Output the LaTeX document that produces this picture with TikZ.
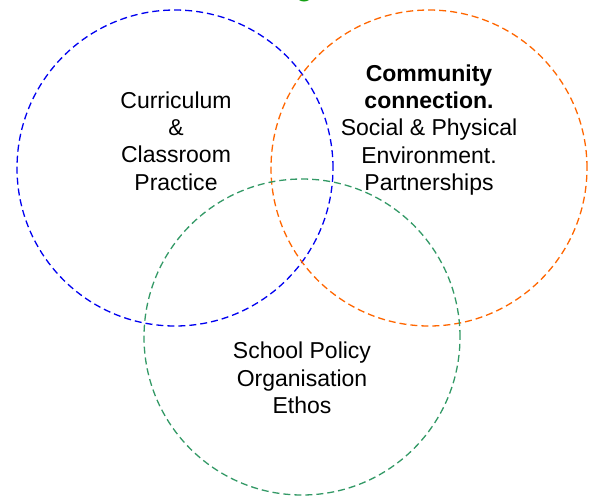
\documentclass[tikz,border=0pt]{standalone}
\usepackage{fontspec}
\setmainfont{Liberation Sans}
\usepackage{xcolor}
\definecolor{ringblue}{RGB}{0,0,240}
\definecolor{ringorange}{RGB}{255,102,0}
\definecolor{ringgreen}{RGB}{51,153,102}
\definecolor{topgreen}{RGB}{20,160,20}
\tikzset{
	ring/.style={dash pattern=on 7pt off 4pt, line width=1.3pt},
	label/.style={align=center, inner sep=0pt, font=\fontsize{23}{27.3}\selectfont}
}

\begin{document}
\begin{tikzpicture}[x=1pt, y=-1pt]
	\useasboundingbox (0,0) rectangle (593,498);
	\fill[topgreen] (304,-3.5) ellipse [x radius=7pt, y radius=5pt];

	\draw[ring, ringblue] (175,168) circle [radius=158pt];
	\draw[ring, ringorange] (429,168) circle [radius=158pt];
	\draw[ring, ringgreen] (302,337) circle [radius=158pt];

	\node[label] (curriculum) at (176,141) {Curriculum\\ \&\\ Classroom\\ Practice};
	\node[label] (community) at (429,130) {\textbf{Community}\\ \textbf{connection.}\\ Social \& Physical\\ Environment.\\ Partnerships};
	\node[label] (policy) at (302,378) {School Policy\\ Organisation\\ Ethos};
\end{tikzpicture}
\end{document}
